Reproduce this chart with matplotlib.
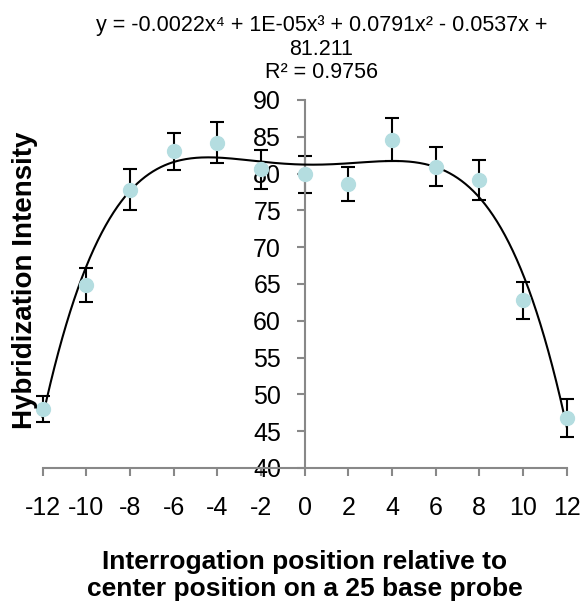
import matplotlib.pyplot as plt
import numpy as np

plt.rcParams['font.family'] = ['Liberation Sans', 'DejaVu Sans']
plt.rcParams['axes.unicode_minus'] = False

# positions and mean hybridization intensities with their error bars
positions = [-12, -10, -8, -6, -4, -2, 0, 2, 4, 6, 8, 10, 12]
intensity = [48.0, 64.9, 77.8, 83.0, 84.2, 80.6, 79.9, 78.6, 84.6, 80.9, 79.1, 62.8, 46.8]
errors = [1.75, 2.3, 2.75, 2.55, 2.8, 2.65, 2.5, 2.35, 2.9, 2.65, 2.7, 2.5, 2.55]

x_ticks = list(range(-12, 13, 2))
y_ticks = list(range(40, 91, 5))

trend_text = 'y = -0.0022x\u2074 + 1E-05x\u00b3 + 0.0791x\u00b2 - 0.0537x +\n81.211\nR\u00b2 = 0.9756'

fig = plt.figure(figsize=(5.83, 6.02), dpi=100)
ax = fig.add_axes([0.0732, 0.2226, 0.8988, 0.6114])

# 4th order polynomial trendline fitted to the points
coef = np.polyfit(positions, intensity, 4)
xs = np.linspace(-12, 12, 400)
ax.plot(xs, np.polyval(coef, xs), color='black', lw=1.5, zorder=3, clip_on=False)

ax.errorbar(positions, intensity, yerr=errors, fmt='none', ecolor='black',
            elinewidth=1.5, capsize=5, capthick=1.5, zorder=2, clip_on=False)
ax.plot(positions, intensity, 'o', color='#b4dde0', markersize=10, zorder=4, clip_on=False)

ax.set_xlim(-12, 12)
ax.set_ylim(40, 90)
ax.set_xticks(x_ticks)
ax.set_yticks(y_ticks)

ax.spines['left'].set_position(('data', 0))
ax.spines['top'].set_visible(False)
ax.spines['right'].set_visible(False)
for s in ['left', 'bottom']:
    ax.spines[s].set_color('#888888')
    ax.spines[s].set_linewidth(1.5)

ax.tick_params(axis='x', direction='out', length=6, width=1.5, color='#888888',
               labelsize=18, pad=14)
ax.tick_params(axis='y', direction='out', length=6, width=1.5, color='#888888',
               labelsize=18, pad=11)

fig.text(0.043, 0.535, 'Hybridization Intensity', rotation=90, ha='center', va='center',
         fontsize=20, fontweight='bold')
fig.text(0.523, 0.044, 'Interrogation position relative to\ncenter position on a 25 base probe',
         ha='center', va='center', fontsize=19, fontweight='bold', linespacing=1.2)
fig.text(0.551, 0.918, trend_text, ha='center', va='center', fontsize=15.5, linespacing=1.15)

plt.savefig('out.png', dpi=100)
